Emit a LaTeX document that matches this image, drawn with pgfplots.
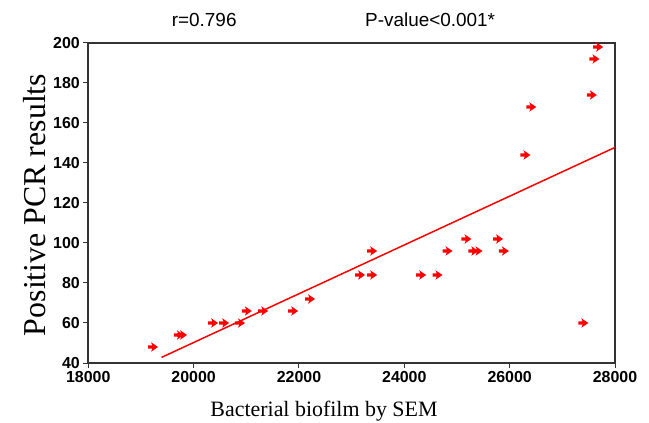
\documentclass[border=0pt]{standalone}
\usepackage{fontspec}
\setmainfont{Liberation Serif}
\newfontfamily\arial{Liberation Sans}
\usepackage{pgfplots}
\pgfplotsset{compat=1.18}

% red arrow marker: short stem plus a head
\pgfdeclareplotmark{rarrow}{%
  \pgfpathmoveto{\pgfqpoint{-1\pgfplotmarksize}{0.32\pgfplotmarksize}}%
  \pgfpathlineto{\pgfqpoint{-0.15\pgfplotmarksize}{0.32\pgfplotmarksize}}%
  \pgfpathlineto{\pgfqpoint{-0.4\pgfplotmarksize}{0.95\pgfplotmarksize}}%
  \pgfpathlineto{\pgfqpoint{1\pgfplotmarksize}{0pt}}%
  \pgfpathlineto{\pgfqpoint{-0.4\pgfplotmarksize}{-0.95\pgfplotmarksize}}%
  \pgfpathlineto{\pgfqpoint{-0.15\pgfplotmarksize}{-0.32\pgfplotmarksize}}%
  \pgfpathlineto{\pgfqpoint{-1\pgfplotmarksize}{-0.32\pgfplotmarksize}}%
  \pgfpathclose
  \pgfusepathqfill
}

\begin{document}
\begin{tikzpicture}
\path[use as bounding box] (0bp,0bp) rectangle (649bp,423bp);
\begin{axis}[
  at={(88.3bp,60bp)}, anchor=south west,
  width=526.7bp, height=320bp, scale only axis,
  xmin=18000, xmax=28000, ymin=40, ymax=200,
  xtick={18000,20000,...,28000},
  ytick={40,60,...,200},
  scaled ticks=false,
  tick pos=left, tick align=outside,
  major tick length=5bp,
  axis line style={black!80, line width=1.8bp},
  tick style={black!80, line width=1bp},
  /pgf/number format/1000 sep={},
  /pgf/number format/assume math mode=true,
  ticklabel style={font=\arial\bfseries\fontsize{16}{16}\selectfont},
  xlabel={Bacterial biofilm by SEM},
  ylabel={Positive PCR results},
  xlabel style={at={(axis description cs:0.4475,-0.168)}, anchor=base,
    font=\fontsize{22}{22}\selectfont},
  ylabel style={at={(axis description cs:-0.1012,0.494)}, anchor=center,
    font=\fontsize{32}{32}\selectfont},
  clip=false,
]
\addplot[only marks, mark=rarrow, mark size=5bp, color=red] coordinates {
  (19230,48) (19720,54) (19780,54) (20370,60) (20580,60) (20880,60)
  (21010,66) (21320,66) (21890,66) (22210,72)
  (23160,84) (23390,84) (23390,96) (24320,84) (24630,84) (24820,96)
  (25180,102) (25310,96) (25390,96) (25780,102) (25890,96)
  (26300,144) (26410,168) (27400,60) (27560,174) (27610,192) (27680,198)
};
\addplot[red, line width=1.5bp] coordinates {(19390,42.8) (28000,147.8)};
\node[font=\arial\fontsize{19}{19}\selectfont] at (axis description cs:0.22,1.072) {r=0.796};
\node[font=\arial\fontsize{19}{19}\selectfont] at (axis description cs:0.649,1.072) {P-value<0.001*};
\end{axis}
\end{tikzpicture}
\end{document}
